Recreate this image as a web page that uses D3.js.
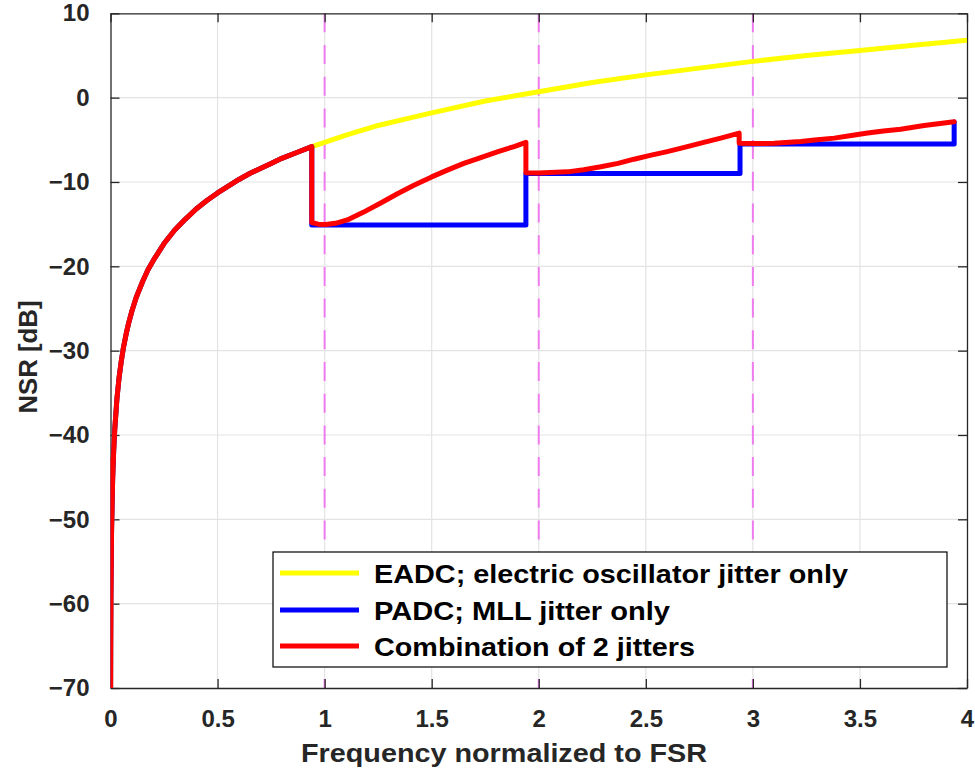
<!DOCTYPE html>
<html>
<head>
<meta charset="utf-8">
<script src="https://cdn.jsdelivr.net/npm/d3@7"></script>
<style>
  body { margin: 0; background: #fff; }
  text { font-family: "Liberation Sans", Arial, sans-serif; font-weight: bold; fill: #262626; }
</style>
</head>
<body>
<div id="chart"></div>
<script>
// Values
const eadcF   = [0.0005, 0.001, 0.002, 0.005, 0.01, 0.015, 0.02, 0.03, 0.04, 0.05, 0.06, 0.075, 0.085, 0.1, 0.12, 0.15, 0.175, 0.2, 0.25, 0.3, 0.35, 0.4, 0.45, 0.5, 0.55, 0.6, 0.65, 0.7, 0.75, 0.8, 0.87, 0.94,
                 1.0, 1.1, 1.25, 1.4, 1.5, 1.75, 2.0, 2.25, 2.5, 2.75, 3.0, 3.25, 3.5, 3.75, 4.0];
const eadcNSR = [-71.3, -65.3, -59.3, -51.3, -45.3, -41.8, -39.3, -35.7, -33.2, -31.3, -29.7, -27.8, -26.7, -25.3, -23.7, -21.8, -20.4, -19.3, -17.3, -15.7, -14.4, -13.2, -12.2, -11.3, -10.5, -9.7, -9.0, -8.4, -7.8, -7.2, -6.5, -5.8,
                 -5.3, -4.45, -3.3, -2.4, -1.8, -0.4, 0.7, 1.8, 2.7, 3.5, 4.3, 5.0, 5.6, 6.2, 6.8];

const padcF   = [0.0005, 0.001, 0.002, 0.005, 0.01, 0.015, 0.02, 0.03, 0.04, 0.05, 0.06, 0.075, 0.085, 0.1, 0.12, 0.15, 0.175, 0.2, 0.25, 0.3, 0.35, 0.4, 0.45, 0.5, 0.55, 0.6, 0.65, 0.7, 0.75, 0.8, 0.87, 0.94,
                 0.94, 1.94, 1.94, 2.94, 2.94, 3.94, 3.94];
const padcNSR = [-71.3, -65.3, -59.3, -51.3, -45.3, -41.8, -39.3, -35.7, -33.2, -31.3, -29.7, -27.8, -26.7, -25.3, -23.7, -21.8, -20.4, -19.3, -17.3, -15.7, -14.4, -13.2, -12.2, -11.3, -10.5, -9.7, -9.0, -8.4, -7.8, -7.2, -6.5, -5.8,
                 -15.1, -15.1, -9.0, -9.0, -5.5, -5.5, -2.9];

const combF   = [0, 0.0005, 0.001, 0.002, 0.005, 0.01, 0.015, 0.02, 0.03, 0.04, 0.05, 0.06, 0.075, 0.085, 0.1, 0.12, 0.15, 0.175, 0.2, 0.25, 0.3, 0.35, 0.4, 0.45, 0.5, 0.55, 0.6, 0.65, 0.7, 0.75, 0.8, 0.87, 0.94,
                 0.94, 0.97, 1.005, 1.05, 1.106, 1.18, 1.262, 1.34, 1.417, 1.5, 1.573, 1.65, 1.729, 1.81, 1.885, 1.94,
                 1.94, 2.0, 2.134, 2.21, 2.29, 2.37, 2.445, 2.52, 2.6, 2.68, 2.757, 2.85, 2.936,
                 2.936, 3.006, 3.1, 3.224, 3.3, 3.38, 3.46, 3.536, 3.61, 3.69, 3.8, 3.94];
const combNSR = [-43, -71.3, -65.3, -59.3, -51.3, -45.3, -41.8, -39.3, -35.7, -33.2, -31.3, -29.7, -27.8, -26.7, -25.3, -23.7, -21.8, -20.4, -19.3, -17.3, -15.7, -14.4, -13.2, -12.2, -11.3, -10.5, -9.7, -9.0, -8.4, -7.8, -7.2, -6.5, -5.8,
                 -14.8, -15.0, -15.05, -14.9, -14.5, -13.6, -12.5, -11.4, -10.4, -9.4, -8.6, -7.8, -7.1, -6.4, -5.8, -5.3,
                 -8.9, -8.95, -8.8, -8.55, -8.2, -7.8, -7.3, -6.85, -6.4, -5.9, -5.4, -4.8, -4.2,
                 -5.4, -5.45, -5.4, -5.2, -5.0, -4.8, -4.5, -4.2, -3.95, -3.75, -3.3, -2.85];

const xTicks = [0, 0.5, 1, 1.5, 2, 2.5, 3, 3.5, 4];
const yTicks = [10, 0, -10, -20, -30, -40, -50, -60, -70];
const bandEdges = [1, 2, 3];

const seriesNames = ["EADC; electric oscillator jitter only", "PADC; MLL jitter only", "Combination of 2 jitters"];
const seriesColors = ["#ffff00", "#0000ff", "#ff0000"];

// Layout
const margin = { top: 13.3, right: 8, bottom: 85, left: 110.5 },
    width = 975 - margin.left - margin.right,
    height = 773 - margin.top - margin.bottom;

const svg = d3.select("#chart")
    .append("svg")
    .attr("width", 975)
    .attr("height", 773);

const g = svg.append("g")
    .attr("transform", `translate(${margin.left},${margin.top})`);

const x = d3.scaleLinear().domain([0, 4]).range([0, width]);
const y = d3.scaleLinear().domain([-70, 10]).range([height, 0]);

// Grid
g.selectAll(".vgrid").data(xTicks.slice(1, -1)).enter().append("line")
    .attr("x1", d => x(d)).attr("x2", d => x(d))
    .attr("y1", 0).attr("y2", height)
    .attr("stroke", "#e3e3e3").attr("stroke-width", 1.2);
g.selectAll(".hgrid").data(yTicks.slice(1, -1)).enter().append("line")
    .attr("x1", 0).attr("x2", width)
    .attr("y1", d => y(d)).attr("y2", d => y(d))
    .attr("stroke", "#e3e3e3").attr("stroke-width", 1.2);

// Dashed band edges
g.selectAll(".band").data(bandEdges).enter().append("line")
    .attr("x1", d => x(d)).attr("x2", d => x(d))
    .attr("y1", 0).attr("y2", height)
    .attr("stroke", "#ee7cee").attr("stroke-width", 2)
    .attr("stroke-dasharray", "19,12.7");

// Axes (box with inward ticks on all sides)
const tickLen = 9;
g.append("g")
    .attr("transform", `translate(0,${height})`)
    .call(d3.axisBottom(x).tickValues(xTicks).tickSizeInner(-tickLen).tickSizeOuter(0).tickPadding(22).tickFormat(d3.format("~g")));
g.append("g")
    .call(d3.axisTop(x).tickValues(xTicks).tickSizeInner(-tickLen).tickSizeOuter(0).tickFormat(""));
g.append("g")
    .call(d3.axisLeft(y).tickValues(yTicks).tickSizeInner(-tickLen).tickSizeOuter(0).tickPadding(21));
g.append("g")
    .attr("transform", `translate(${width},0)`)
    .call(d3.axisRight(y).tickValues(yTicks).tickSizeInner(-tickLen).tickSizeOuter(0).tickFormat(""));

g.selectAll(".domain").attr("stroke", "#262626").attr("stroke-width", 1.3);
g.selectAll(".tick line").attr("stroke", "#262626").attr("stroke-width", 1.3);
g.selectAll(".tick text").style("font-size", "24px").attr("fill", "#262626");

// Clip for curves
svg.append("clipPath").attr("id", "plotclip")
    .append("rect").attr("x", 0).attr("y", 0).attr("width", width).attr("height", height);

const line = d3.line().x(d => x(d[0])).y(d => y(d[1]));
const series = [
    d3.zip(eadcF, eadcNSR),
    d3.zip(padcF, padcNSR),
    d3.zip(combF, combNSR)
];

g.append("g").attr("clip-path", "url(#plotclip)")
    .selectAll("path").data(series).enter().append("path")
    .attr("d", line)
    .attr("fill", "none")
    .attr("stroke", (d, i) => seriesColors[i])
    .attr("stroke-width", 5)
    .attr("stroke-linejoin", "round")
    .attr("stroke-linecap", "round");

// Axis labels
svg.append("text")
    .attr("x", 504).attr("y", 761.5)
    .attr("text-anchor", "middle")
    .style("font-size", "26px")
    .attr("textLength", 406)
    .attr("lengthAdjust", "spacingAndGlyphs")
    .text("Frequency normalized to FSR");

svg.append("text")
    .attr("transform", "translate(37,357) rotate(-90)")
    .attr("text-anchor", "middle")
    .style("font-size", "26px")
    .attr("textLength", 113)
    .attr("lengthAdjust", "spacingAndGlyphs")
    .text("NSR [dB]");

// Legend
const legend = svg.append("g");
legend.append("rect")
    .attr("x", 273).attr("y", 552)
    .attr("width", 674).attr("height", 115)
    .attr("fill", "#fff").attr("stroke", "#000").attr("stroke-width", 1.2);

const legendRowY = [573, 610, 646];
const legendTextLen = [474, 296, 321];
seriesNames.forEach((name, i) => {
    legend.append("line")
        .attr("x1", 280).attr("x2", 359)
        .attr("y1", legendRowY[i]).attr("y2", legendRowY[i])
        .attr("stroke", seriesColors[i]).attr("stroke-width", 5);
    legend.append("text")
        .attr("x", 374).attr("y", legendRowY[i] + 9.5)
        .style("font-size", "26px")
        .style("fill", "#000")
        .attr("textLength", legendTextLen[i])
        .attr("lengthAdjust", "spacingAndGlyphs")
        .text(name);
});
</script>
</body>
</html>
